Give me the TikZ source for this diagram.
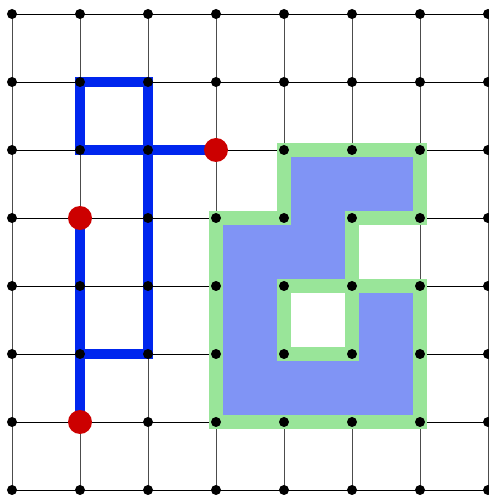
\documentclass[tikz,border=0pt]{standalone}
\definecolor{bluec}{HTML}{0026EE}
\definecolor{redc}{HTML}{CC0000}
\definecolor{greenc}{HTML}{99E599}
\definecolor{fillc}{HTML}{8094F5}
\begin{document}
\begin{tikzpicture}[x=68pt,y=68pt,
  dot/.style={circle,fill=black,inner sep=0pt,minimum size=10pt},
  reddot/.style={circle,fill=redc,inner sep=0pt,minimum size=24pt},
  hline/.style={black,line width=0.8pt},
  vline/.style={black!70,line width=0.9pt},
  bluepath/.style={draw=bluec,line width=10pt,line join=miter,line cap=butt},
  region/.style={fill=fillc,draw=greenc,line width=14pt,even odd rule,line join=miter}]
\useasboundingbox (-12pt,-6pt) rectangle (476pt,490pt);
% named lattice points
\foreach \i in {0,...,7} {
  \foreach \j in {0,...,7} {
    \coordinate (c\i\j) at (\i,\j);
  }
}
% grid
\foreach \k in {0,...,7} {
  \draw[hline] (c0\k) -- (c7\k);
  \draw[vline] (c\k0) -- (c\k7);
}
% region with hole
\path[region] (c45) -- (c65) -- (c64) -- (c54) -- (c53) -- (c63) -- (c61) -- (c31) -- (c34) -- (c44) -- cycle
  (c43) -- (c53) -- (c52) -- (c42) -- cycle;
% blue path
\path[bluepath] (c35) -- (c15) -- (c16) -- (c26) -- (c22) -- (c12);
\path[bluepath] (c14) -- (c11);
% dots
\foreach \i in {0,...,7} {
  \foreach \j in {0,...,7} {
    \node[dot] (d\i\j) at (c\i\j) {};
  }
}
% red points
\node[reddot] (r1) at (c35) {};
\node[reddot] (r2) at (c14) {};
\node[reddot] (r3) at (c11) {};
\end{tikzpicture}
\end{document}
